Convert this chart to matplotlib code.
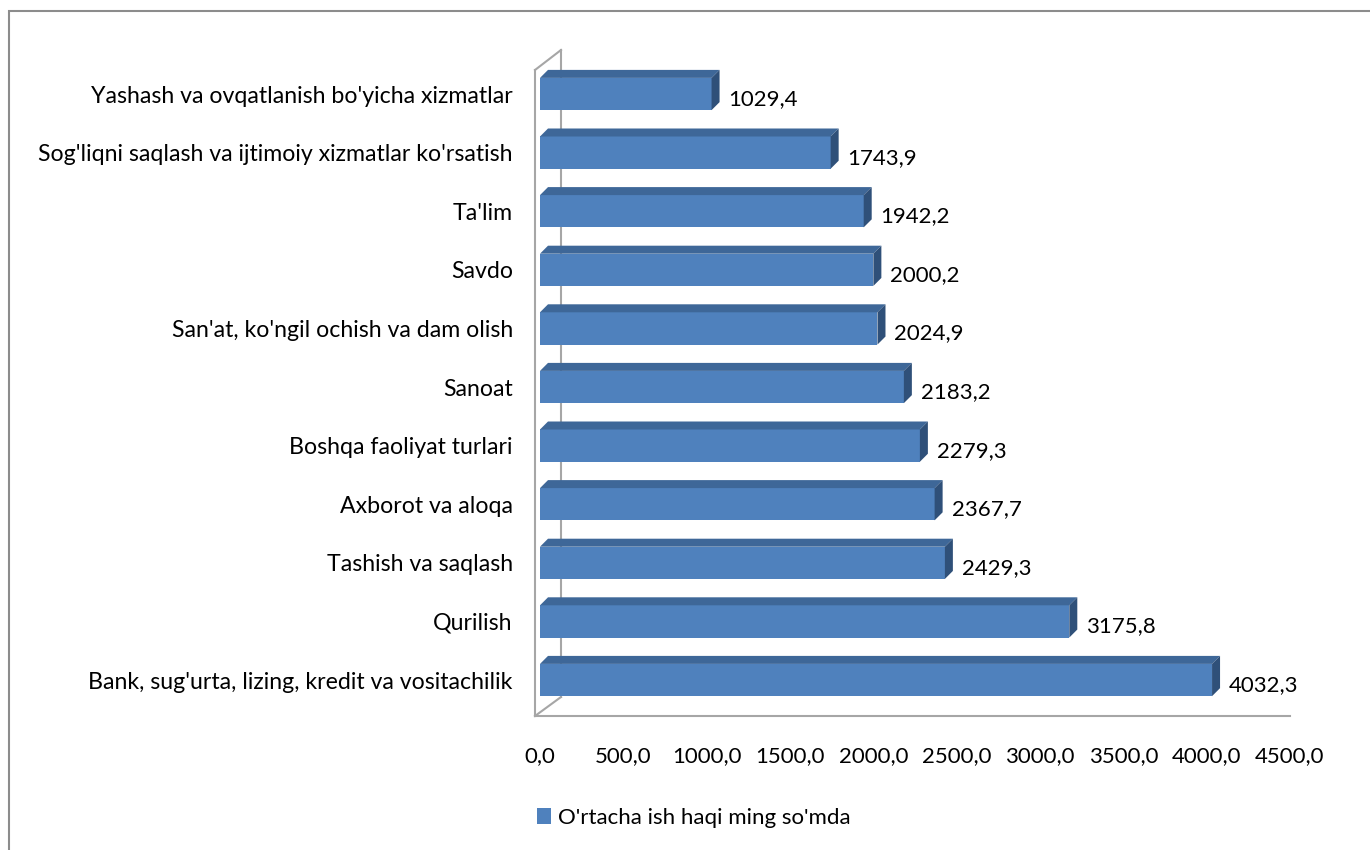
import matplotlib.pyplot as plt
from matplotlib.patches import Polygon, Rectangle
from matplotlib.lines import Line2D

# Average wage by activity type (thousand so'm)
categories = [
    "Bank, sug'urta, lizing, kredit va vositachilik",
    "Qurilish",
    "Tashish va saqlash",
    "Axborot va aloqa",
    "Boshqa faoliyat turlari",
    "Sanoat",
    "San'at, ko'ngil ochish va dam olish",
    "Savdo",
    "Ta'lim",
    "Sog'liqni saqlash va ijtimoiy xizmatlar ko'rsatish",
    "Yashash va ovqatlanish bo'yicha xizmatlar",
]
values = [4032.3, 3175.8, 2429.3, 2367.7, 2279.3, 2183.2, 2024.9, 2000.2, 1942.2, 1743.9, 1029.4]
xticks = [0, 500, 1000, 1500, 2000, 2500, 3000, 3500, 4000, 4500]
legend_label = "O'rtacha ish haqi ming so'mda"

plt.rcParams['font.family'] = ['Lato', 'DejaVu Sans']
fs = 16

front = '#4F81BD'
top_col = '#3E6798'
side_col = '#2F5079'
wall = '#A6A6A6'

W, H = 1370, 850
fig = plt.figure(figsize=(W / 100, H / 100), dpi=100)

# axes placed in pixels: left 535, right 1290, floor 716, top 50
ax = fig.add_axes([535 / W, (H - 716) / H, 755 / W, 666 / H])
ax.set_xlim(-30, 4500)
ax.set_ylim(-0.614, 10.751)

# data units per pixel, used for the 3D depth of the bars
ux = 4530 / 755
uy = 11.365 / 666
dx, dy = 8 * ux, 8 * uy
h = 0.55

for i, v in enumerate(values):
    y0, y1 = i - h / 2, i + h / 2
    ax.add_patch(Rectangle((0, y0), v, h, facecolor=front, edgecolor='none', zorder=3))
    ax.add_patch(Polygon([(0, y1), (v, y1), (v + dx, y1 + dy), (dx, y1 + dy)],
                         closed=True, facecolor=top_col, edgecolor='none', zorder=3))
    ax.add_patch(Polygon([(v, y0), (v, y1), (v + dx, y1 + dy), (v + dx, y0 + dy)],
                         closed=True, facecolor=side_col, edgecolor='none', zorder=3))
    lab = f"{v:.1f}".replace('.', ',')
    ax.text(v + dx + 9 * ux, i - 5 * uy, lab, ha='left', va='center', fontsize=fs, color='black', zorder=4)

# walls of the 3D box
for s in ['top', 'right', 'left']:
    ax.spines[s].set_visible(False)
ax.spines['bottom'].set_color(wall)
ax.spines['bottom'].set_linewidth(1.5)
bx, by = 26 / 755, 19 / 666
ty = (716 - 70) / 666
for xs, ys in [([0, 0], [0, ty]), ([0, bx], [ty, 1.0]), ([bx, bx], [by, 1.0]), ([0, bx], [0, by])]:
    ax.add_line(Line2D(xs, ys, transform=ax.transAxes, color=wall, lw=1.5, clip_on=False, zorder=1))

ax.set_xticks(xticks)
ax.set_xticklabels([f"{t:.1f}".replace('.', ',') for t in xticks], fontsize=fs)
ax.set_yticks(range(len(categories)))
ax.set_yticklabels(categories, fontsize=16.7)
ax.tick_params(axis='x', length=0, pad=22)
ax.tick_params(axis='y', length=0, pad=16)

# legend below the plot
fig.add_artist(Rectangle((537 / W, (H - 824) / H), 14 / W, 16 / H, facecolor=front,
                         edgecolor='none', transform=fig.transFigure))
fig.text(558 / W, (H - 818) / H, legend_label, fontsize=fs, va='center', ha='left')

# outer chart border
fig.add_artist(Rectangle((9 / W, -0.1), 1.2, (H - 11) / H + 0.1, facecolor='none',
                         edgecolor='#8C8C8C', lw=1.5, transform=fig.transFigure))

fig.savefig('out.png', dpi=100)
